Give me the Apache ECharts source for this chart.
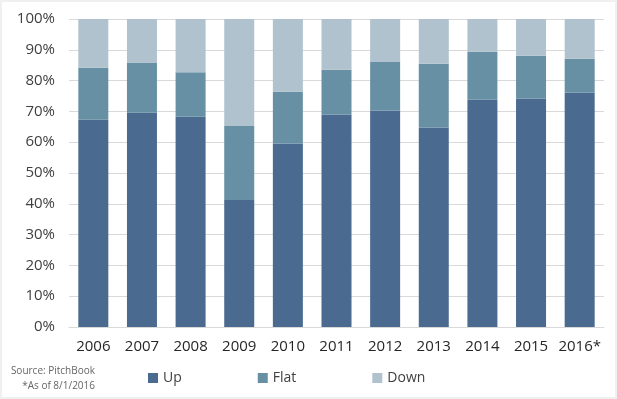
<!DOCTYPE html>
<html>
<head>
<meta charset="utf-8">
<script src="https://cdn.jsdelivr.net/npm/echarts@6/dist/echarts.min.js"></script>
<style>
	html, body { margin: 0; padding: 0; background: #fff; }
	#main { width: 617px; height: 399px; box-sizing: border-box; border: 2px solid #f0f0f0; }
</style>
</head>
<body>
<div id="main"></div>
<script>
// 年份
var years = ['2006', '2007', '2008', '2009', '2010', '2011', '2012', '2013', '2014', '2015', '2016*'];
// 各系列占比 (%)
var upData = [67.3, 69.6, 68.3, 41.2, 59.6, 69.0, 70.3, 64.8, 73.8, 74.2, 76.1];
var flatData = [16.9, 16.3, 14.4, 24.1, 16.8, 14.5, 15.7, 20.7, 15.6, 13.9, 11.0];
var downData = [15.8, 14.1, 17.3, 34.7, 23.6, 16.5, 14.0, 14.5, 10.6, 11.9, 12.9];
var legendData = ['Up', 'Flat', 'Down'];
var colors = ['#4a6a90', '#6890a4', '#afc2cd'];

var myChart = echarts.init(document.getElementById('main'));
var font = "'Open Sans', sans-serif";

var option = {
	animation: false,
	color: colors,
	textStyle: { fontFamily: font },
	grid: {
		left: 67,
		right: 11,
		top: 17,
		bottom: 70
	},
	legend: {
		left: 146,
		top: 369,
		padding: 0,
		itemWidth: 10,
		itemHeight: 10,
		itemGap: 76,
		icon: 'rect',
		textStyle: { fontSize: 14, color: '#404040', fontFamily: font },
		data: legendData
	},
	graphic: [{
		type: 'text',
		x: 93,
		y: 364,
		style: { text: 'Source: PitchBook', fontSize: 10, fill: '#666', fontFamily: font, align: 'right' }
	}, {
		type: 'text',
		x: 93,
		y: 379,
		style: { text: '*As of 8/1/2016', fontSize: 10, fill: '#666', fontFamily: font, align: 'right' }
	}],
	xAxis: {
		type: 'category',
		data: years,
		axisTick: { show: false },
		axisLine: { lineStyle: { color: '#d9d9d9' } },
		axisLabel: { interval: 0, fontSize: 15, color: '#262626', margin: 12 }
	},
	yAxis: {
		type: 'value',
		min: 0,
		max: 100,
		interval: 10,
		axisLabel: { formatter: '{value}%', fontSize: 15, color: '#404040', margin: 14 },
		splitLine: { lineStyle: { color: '#d9d9d9' } }
	},
	series: []
};
myChart.setOption(option);

var seriesData = [upData, flatData, downData];
var attrData = [];
seriesData.forEach(function(element, index) {
	attrData.push({
		name: legendData[index],
		type: 'bar',
		stack: 'total',
		barWidth: 30,
		data: element
	});
});
myChart.setOption({ series: attrData });
</script>
</body>
</html>
